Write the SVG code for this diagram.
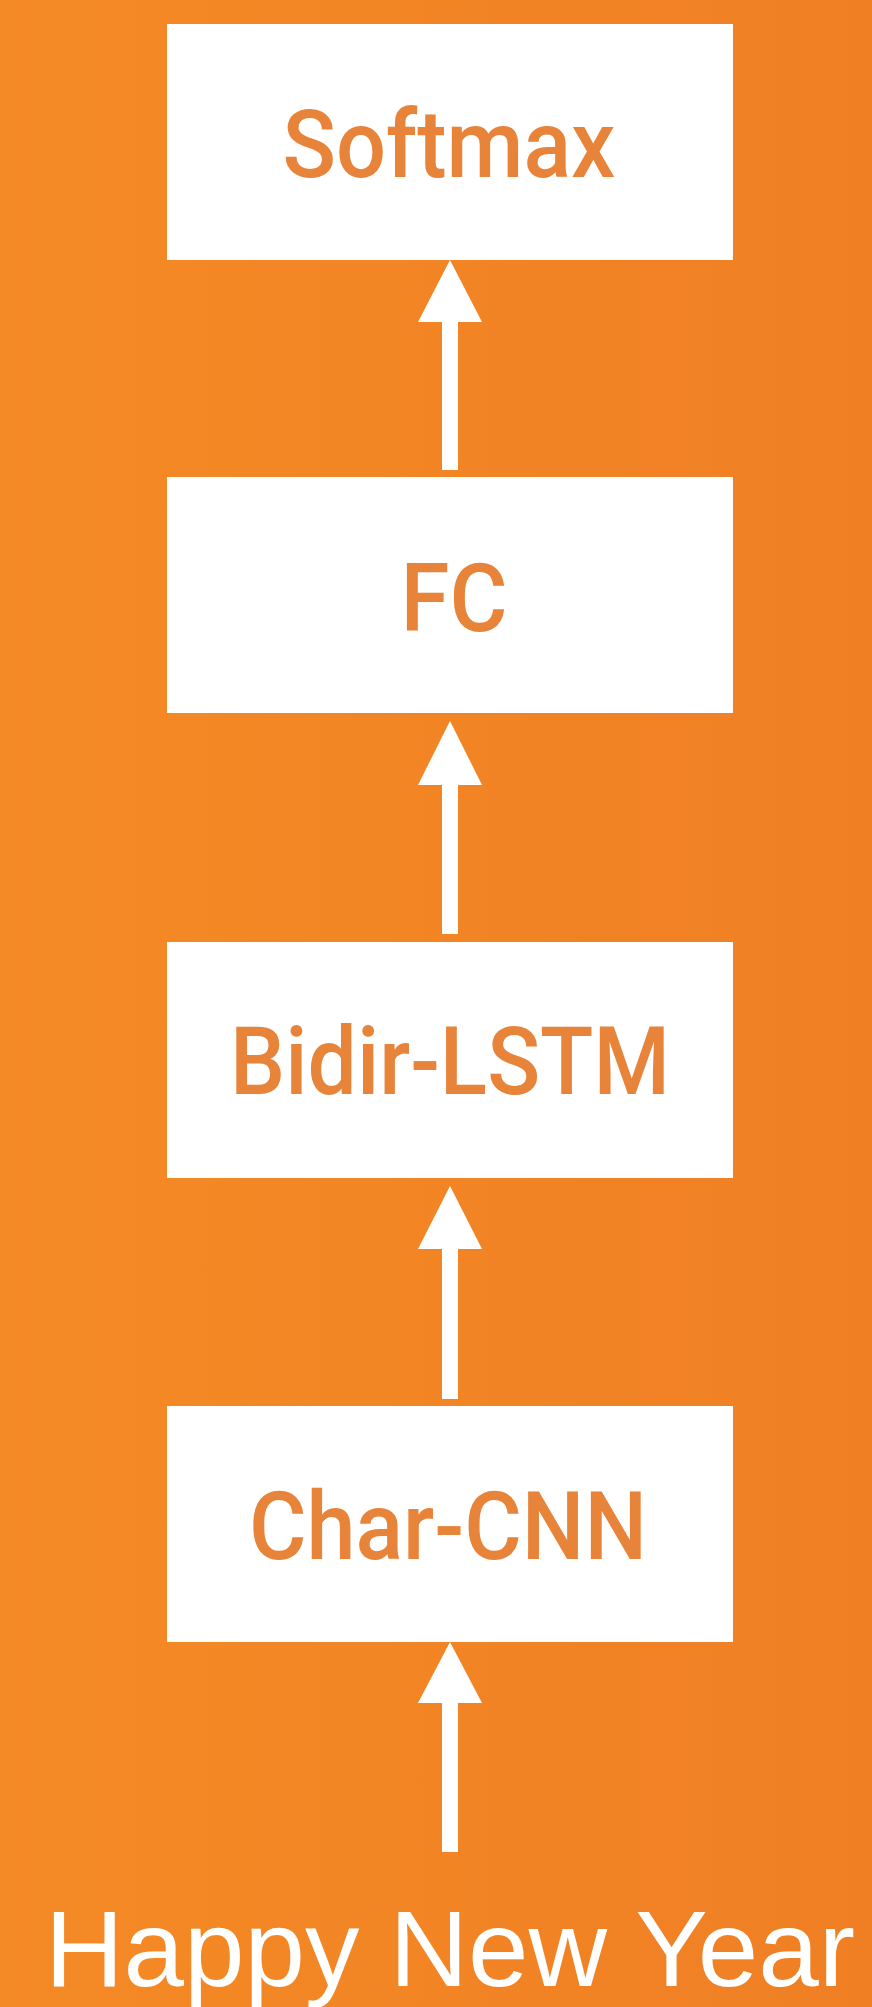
<svg xmlns="http://www.w3.org/2000/svg" width="872" height="2007" viewBox="0 0 872 2007">
  <defs>
    <linearGradient id="bg" x1="0" y1="0" x2="1" y2="0">
      <stop offset="0" stop-color="#F48A25"/>
      <stop offset="1" stop-color="#F07F24"/>
    </linearGradient>
    <style>
      .box { fill: #FFFFFF; }
      .label { font-family: Roboto, "DejaVu Sans Condensed", sans-serif; font-size: 94px; font-weight: 500; fill: #E8833A; text-anchor: middle; }
      .arrow { fill: #FFFFFF; }
      .caption { font-family: "Liberation Sans", Arial, sans-serif; font-size: 107px; fill: #FFFFFF; }
    </style>
  </defs>

  <rect x="0" y="0" width="872" height="2007" fill="url(#bg)"/>

  <!-- layer stack, top to bottom -->
  <g id="softmax">
    <rect class="box" x="167" y="24" width="566" height="236"/>
    <text class="label" x="449" y="177" textLength="333" lengthAdjust="spacingAndGlyphs">Softmax</text>
  </g>
  <g id="fc">
    <rect class="box" x="167" y="477" width="566" height="236"/>
    <text class="label" x="454" y="631" textLength="107" lengthAdjust="spacingAndGlyphs">FC</text>
  </g>
  <g id="bidir-lstm">
    <rect class="box" x="167" y="942" width="566" height="236"/>
    <text class="label" x="450" y="1094" textLength="440" lengthAdjust="spacingAndGlyphs">Bidir-LSTM</text>
  </g>
  <g id="char-cnn">
    <rect class="box" x="167" y="1406" width="566" height="236"/>
    <text class="label" x="448" y="1559" textLength="398" lengthAdjust="spacingAndGlyphs">Char-CNN</text>
  </g>

  <!-- upward arrows between layers -->
  <g id="connectors">
    <path class="arrow" d="M450 260 L482 322 L458 322 L458 470 L442 470 L442 322 L418 322 Z"/>
    <path class="arrow" d="M450 721 L482 785 L458 785 L458 934 L442 934 L442 785 L418 785 Z"/>
    <path class="arrow" d="M450 1186 L482 1249 L458 1249 L458 1399 L442 1399 L442 1249 L418 1249 Z"/>
    <path class="arrow" d="M450 1642 L482 1703 L458 1703 L458 1852 L442 1852 L442 1703 L418 1703 Z"/>
  </g>

  <g id="input">
    <text class="caption" x="45" y="1986" textLength="810" lengthAdjust="spacingAndGlyphs">Happy New Year</text>
  </g>
</svg>
